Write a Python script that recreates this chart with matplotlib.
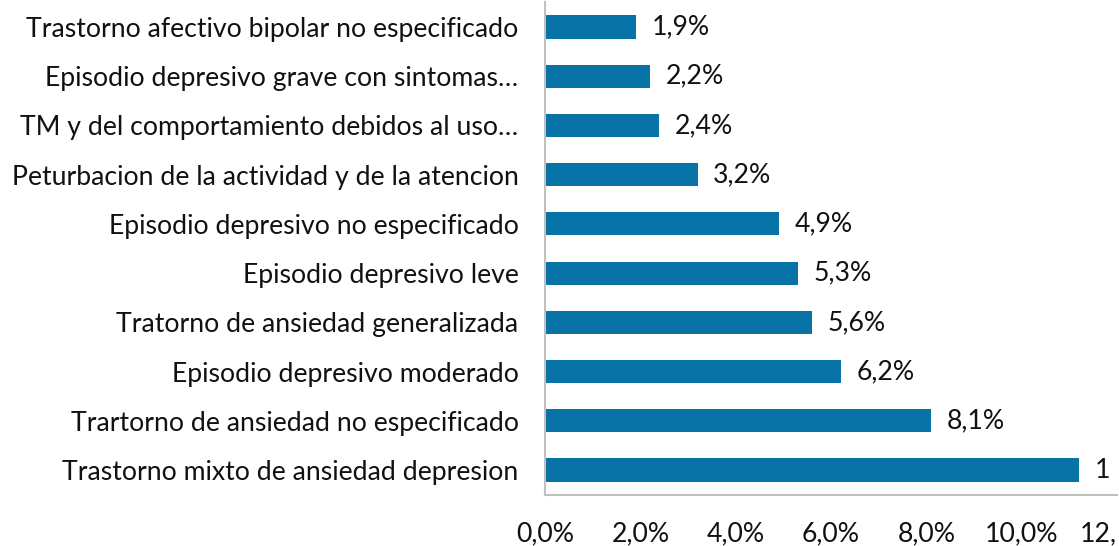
import matplotlib
matplotlib.use("Agg")
import matplotlib.pyplot as plt
from matplotlib.patches import Rectangle

categories = [
    "Trastorno afectivo bipolar no especificado",
    "Episodio depresivo grave con sintomas…",
    "TM y del comportamiento debidos al uso…",
    "Peturbacion de la actividad y de la atencion",
    "Episodio depresivo no especificado",
    "Episodio depresivo leve",
    "Tratorno de ansiedad generalizada",
    "Episodio depresivo moderado",
    "Trartorno de ansiedad no especificado",
    "Trastorno mixto de ansiedad depresion",
]
values = [1.9, 2.2, 2.4, 3.2, 4.9, 5.3, 5.6, 6.2, 8.1, 11.2]
xticks = [0, 2, 4, 6, 8, 10, 12]
xtick_labels = ["0,0%", "2,0%", "4,0%", "6,0%", "8,0%", "10,0%", "12,0%"]

plt.rcParams['font.family'] = ['Lato', 'DejaVu Sans']
FS = 19.2
W, H = 1119, 546
fig = plt.figure(figsize=(W / 100, H / 100), dpi=100)
left, right = 545, 1117
top, bottom = 2.4, 494.6
ax = fig.add_axes([left / W, 1 - bottom / H, (right - left) / W, (bottom - top) / H])

n = len(categories)
ypos = list(range(n - 1, -1, -1))
color = "#0773A7"
ax.barh(ypos, values, height=0.47, color=color, zorder=2)
for y, v in zip(ypos, values):
    ax.text(v + 0.33, y, f"{v:.1f}%".replace(".", ","), va="center", ha="left",
            fontsize=FS, color="#111111", clip_on=False)

ax.set_xlim(0, 12)
ax.set_ylim(-0.5, n - 0.5)
ax.set_yticks(ypos)
ax.set_yticklabels(categories, fontsize=FS, color="#111111")
ax.set_xticks(xticks)
ax.set_xticklabels(xtick_labels, fontsize=FS, color="#111111")
ax.tick_params(axis="y", length=0, pad=19)
ax.tick_params(axis="x", length=0, pad=19)
for s in ["top", "right"]:
    ax.spines[s].set_visible(False)
for s in ["left", "bottom"]:
    ax.spines[s].set_color("#c0c0c0")
    ax.spines[s].set_linewidth(1.5)

# the reference image is cropped at its right edge
def cover(x0, y0, y1):
    fig.patches.append(Rectangle((x0 / W, 1 - y1 / H), (W - x0) / W, (y1 - y0) / H,
                                 transform=fig.transFigure, facecolor="white",
                                 edgecolor="none", zorder=10))

cover(1109, 448, 490)
cover(1115, 500, 546)

fig.savefig("out.png", dpi=100)
